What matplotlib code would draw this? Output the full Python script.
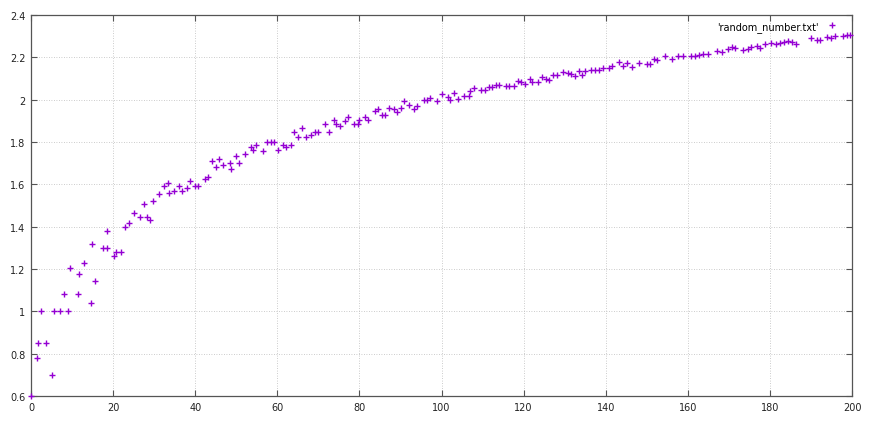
import matplotlib
matplotlib.use("Agg")
import matplotlib.pyplot as plt
from matplotlib.ticker import FuncFormatter

x_vals = [0, 1.4, 1.8, 2.5, 3.7, 5.0, 5.6, 7.1, 8.0, 9.0, 9.6, 11.5, 11.8, 13.0, 14.5, 14.8,
          15.7, 17.5, 18.5, 18.6, 20.2, 20.6, 21.9, 23.0, 23.8, 25.0, 26.5, 27.6, 28.3, 29.1,
          29.8, 31.1, 32.3, 33.3, 33.7, 34.9, 36.0, 36.7, 38.0, 38.8, 39.9, 40.8,
          42.5, 43.1, 44.1, 45.1, 45.8, 46.7, 48.4, 48.7, 50.0, 50.7, 52.1, 53.6, 54.2, 54.9,
          56.4, 57.5, 58.5, 59.3, 60.2, 61.5, 62.2, 63.3, 64.0, 65.0, 66.1, 67.1, 68.2, 69.3,
          70.0, 71.5, 72.6, 73.7, 74.3, 75.3, 76.4, 77.2, 78.7, 79.7, 80.0, 81.3, 82.1, 83.7,
          84.6, 85.4, 86.2, 87.3, 88.5, 89.1, 90.2, 90.9, 92.2, 93.2, 94.1, 95.8, 96.4, 97.1,
          99.0, 100.2, 101.5, 102.1, 103.1, 104.1, 105.4, 106.6, 106.9, 107.9, 109.7, 110.7,
          111.6, 112.3, 113.3, 113.9, 115.7, 116.5, 117.6, 118.6, 119.4, 120.4, 121.5, 122.0,
          123.5, 124.5, 125.4, 126.3, 127.2, 128.2, 129.7, 130.7, 131.5, 132.4, 133.4, 134.2,
          134.9, 136.5, 137.3, 138.3, 139.3, 140.8, 141.6, 143.2, 144.2, 145.2, 146.5, 148.0,
          150.1, 150.9, 151.7, 152.5, 154.5, 156.1, 157.7, 158.9, 160.8, 161.8, 162.8, 163.7,
          164.9, 167.0, 168.3, 169.9, 170.7, 171.6, 173.4, 174.7, 175.5, 176.8, 177.6, 178.9,
          180.2, 181.4, 182.4, 183.5, 184.5, 185.4, 186.3, 190.0, 191.5, 192.1, 193.9, 194.9,
          195.9, 197.8, 198.8, 199.6]
y_vals = [0.60, 0.78, 0.85, 1.00, 0.85, 0.70, 1.00, 1.00, 1.08, 1.00, 1.205, 1.08, 1.176, 1.23,
          1.04, 1.32, 1.145, 1.30, 1.378, 1.30, 1.26, 1.282, 1.282, 1.397, 1.416, 1.464, 1.447,
          1.505, 1.447, 1.43, 1.522, 1.554, 1.594, 1.605, 1.559, 1.57, 1.594, 1.57, 1.583, 1.614,
          1.594, 1.594,
          1.625, 1.633, 1.709, 1.68, 1.72, 1.69, 1.70, 1.672, 1.732, 1.70, 1.743, 1.778, 1.762,
          1.787, 1.756, 1.798, 1.798, 1.798, 1.762, 1.787, 1.778, 1.787, 1.845, 1.825, 1.865,
          1.825, 1.833, 1.845, 1.845, 1.883, 1.845, 1.904, 1.885, 1.877, 1.898, 1.917, 1.885,
          1.885, 1.904, 1.92, 1.904, 1.945, 1.957, 1.929, 1.929, 1.96, 1.957, 1.94, 1.96, 1.992,
          1.973, 1.954, 1.97, 1.998, 2.0, 2.008, 1.995, 2.027, 2.011, 1.998, 2.03, 2.005, 2.019,
          2.018, 2.039, 2.055, 2.047, 2.047, 2.058, 2.058, 2.068, 2.068, 2.063, 2.063, 2.063,
          2.087, 2.083, 2.074, 2.099, 2.083, 2.083, 2.108, 2.099, 2.093, 2.118, 2.118, 2.129,
          2.124, 2.121, 2.112, 2.137, 2.118, 2.137, 2.14, 2.14, 2.14, 2.151, 2.151, 2.157,
          2.176, 2.16, 2.173, 2.154, 2.173, 2.17, 2.17, 2.192, 2.189, 2.205, 2.192, 2.205,
          2.205, 2.205, 2.207, 2.21, 2.217, 2.214, 2.23, 2.224, 2.239, 2.249, 2.243, 2.236,
          2.239, 2.249, 2.252, 2.243, 2.261, 2.268, 2.264, 2.268, 2.271, 2.277, 2.271, 2.261,
          2.293, 2.28, 2.28, 2.296, 2.29, 2.302, 2.302, 2.305, 2.305]
series_label = "'random_number.txt'"
x_ticks = [0, 20, 40, 60, 80, 100, 120, 140, 160, 180, 200]
y_ticks = [0.6, 0.8, 1.0, 1.2, 1.4, 1.6, 1.8, 2.0, 2.2, 2.4]

fig = plt.figure(figsize=(8.72, 4.27), dpi=100)
ax = fig.add_axes([31/872, 30/427, (852-31)/872, (397-16)/427])

ax.plot(x_vals, y_vals, linestyle='none', marker='+', color='#9400d3',
        markersize=5, markeredgewidth=1.0, label=series_label, clip_on=False, zorder=3)

ax.set_xlim(0, 200)
ax.set_ylim(0.6, 2.4)
ax.set_xticks(x_ticks)
ax.set_yticks(y_ticks)
fmt = FuncFormatter(lambda v, p: '%g' % round(v, 2))
ax.xaxis.set_major_formatter(fmt)
ax.yaxis.set_major_formatter(fmt)
ax.tick_params(direction='in', length=4, width=0.8, colors='#555555',
               labelsize=7, labelcolor='#222222', top=True, right=True, pad=4)
for s in ax.spines.values():
    s.set_color('#555555')
    s.set_linewidth(0.9)
ax.grid(True, linestyle=(0, (1, 2)), color='#bbbbbb', linewidth=0.6)

ax.legend(loc='upper right', frameon=False, markerfirst=False, fontsize=7,
          handlelength=1.2, handletextpad=0.8, borderaxespad=0.2,
          bbox_to_anchor=(0.99, 1.0))

fig.savefig('out.png', dpi=100)
